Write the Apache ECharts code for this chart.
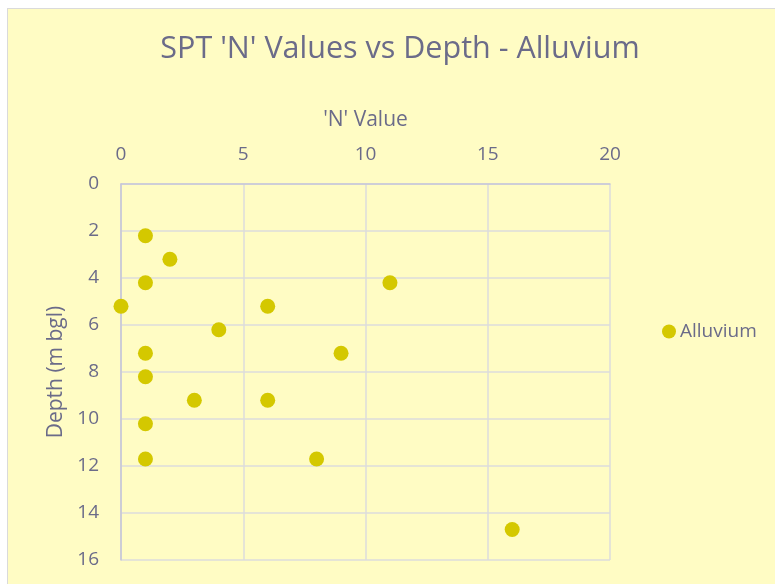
<!DOCTYPE html>
<html>
<head>
<meta charset="utf-8">
<script src="https://cdn.jsdelivr.net/npm/echarts@6/dist/echarts.min.js"></script>
<style>
  html, body { margin: 0; padding: 0; background: #ffffff; }
  #frame { position: absolute; left: 0; top: 0; width: 775px; height: 584px; overflow: hidden; }
  #panel { position: absolute; left: 7px; top: 8px; right: 0; bottom: 0;
           background: #FFFCC4; border-left: 1px solid #DADADA; border-top: 1px solid #DADADA; }
  #chart { position: absolute; left: 0; top: 0; width: 775px; height: 584px; }
</style>
</head>
<body>
<div id="frame">
  <div id="panel"></div>
  <div id="chart"></div>
</div>
<script>
// SPT results for the alluvium layer
const nValues  = [1, 2, 1, 11, 0, 6, 4, 1, 9, 1, 3, 6, 1, 1, 8, 16];
const depths   = [2.2, 3.2, 4.2, 4.2, 5.2, 5.2, 6.2, 7.2, 7.2, 8.2, 9.2, 9.2, 10.2, 11.7, 11.7, 14.7];
const seriesName = 'Alluvium';
const xTicks = { min: 0, max: 20, step: 5 };
const yTicks = { min: 0, max: 16, step: 2 };

const textColor = '#6B6B89';
const fontFamily = '"Open Sans", "Noto Sans", sans-serif';

const points = nValues.map((n, i) => [n, depths[i]]);

const chart = echarts.init(document.getElementById('chart'), null, { renderer: 'canvas' });
chart.setOption({
  backgroundColor: 'transparent',
  animation: false,
  textStyle: { fontFamily: fontFamily, color: textColor },
  title: {
    text: "SPT 'N' Values vs Depth - Alluvium",
    left: 395, top: 29, textAlign: 'center',
    textStyle: { fontFamily: fontFamily, fontSize: 30.5, fontWeight: 'normal', color: textColor }
  },
  legend: {
    data: [seriesName],
    left: 657, top: 317, orient: 'vertical',
    icon: 'circle', itemWidth: 14, itemHeight: 14, itemGap: 4,
    textStyle: { fontFamily: fontFamily, fontSize: 19, color: textColor, padding: [0, 0, 0, -1] }
  },
  grid: { left: 121, right: 165, top: 184, bottom: 24 },
  xAxis: {
    type: 'value', position: 'top',
    min: xTicks.min, max: xTicks.max, interval: xTicks.step,
    name: "'N' Value", nameLocation: 'middle', nameGap: 53,
    nameTextStyle: { fontFamily: fontFamily, fontSize: 21, color: textColor },
    axisLine: { show: true, lineStyle: { color: '#C6C6D6', width: 1.5 } },
    axisTick: { show: false },
    axisLabel: { fontFamily: fontFamily, fontSize: 19, color: textColor, margin: 20 },
    splitLine: { show: true, lineStyle: { color: '#DCDCDC', width: 1.5 } }
  },
  yAxis: {
    type: 'value', inverse: true,
    min: yTicks.min, max: yTicks.max, interval: yTicks.step,
    name: 'Depth (m bgl)', nameLocation: 'middle', nameGap: 54, nameRotate: 90,
    nameTextStyle: { fontFamily: fontFamily, fontSize: 21, color: textColor },
    axisLine: { show: true, lineStyle: { color: '#C6C6D6', width: 1.5 } },
    axisTick: { show: false },
    axisLabel: { fontFamily: fontFamily, fontSize: 19, color: textColor, margin: 22 },
    splitLine: { show: true, lineStyle: { color: '#DCDCDC', width: 1.5 } }
  },
  series: [{
    name: seriesName,
    type: 'scatter',
    data: points,
    symbol: 'circle',
    symbolSize: 15,
    itemStyle: { color: '#D4C800', opacity: 1 }
  }]
});
</script>
</body>
</html>
